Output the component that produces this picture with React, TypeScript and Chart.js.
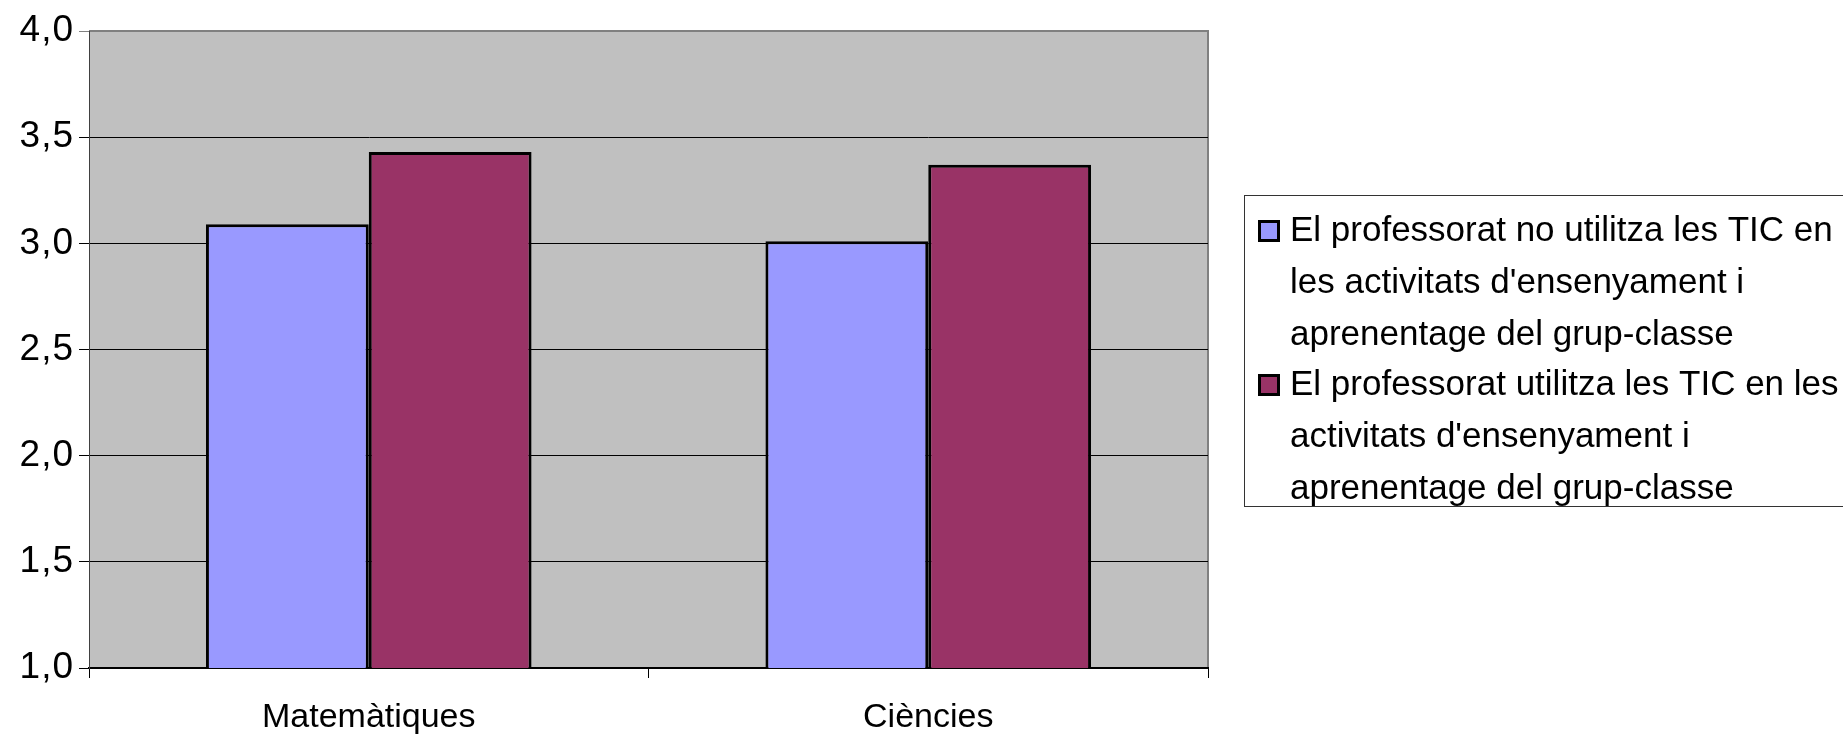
import React, { useEffect, useRef } from 'react';
import { Chart, registerables } from 'chart.js';

Chart.register(...registerables);

const categories: string[] = ['Matemàtiques', 'Ciències'];
const seriesNoTIC: number[] = [3.09, 3.01];
const seriesTIC: number[] = [3.43, 3.37];
const legendNoTIC: string[] = [
  'El professorat no utilitza les TIC en',
  "les activitats d'ensenyament i",
  'aprenentage del grup-classe',
];
const legendTIC: string[] = [
  'El professorat utilitza les TIC en les',
  "activitats d'ensenyament i",
  'aprenentage del grup-classe',
];
const yMin = 1.0;
const yMax = 4.0;
const yStep = 0.5;
const colorNoTIC = '#9999FF';
const colorTIC = '#993366';
const plotBg = '#C0C0C0';
const FONT = '"Liberation Sans", Arial, sans-serif';

const plotBackground = {
  id: 'plotBackground',
  beforeDraw(chart: any) {
    const { ctx, chartArea } = chart;
    ctx.save();
    ctx.fillStyle = plotBg;
    ctx.fillRect(chartArea.left, chartArea.top, chartArea.right - chartArea.left, chartArea.bottom - chartArea.top);
    ctx.strokeStyle = '#808080';
    ctx.lineWidth = 2;
    ctx.beginPath();
    ctx.moveTo(chartArea.left, chartArea.top);
    ctx.lineTo(chartArea.right, chartArea.top);
    ctx.lineTo(chartArea.right, chartArea.bottom);
    ctx.stroke();
    ctx.restore();
    // y tick labels are drawn slightly wider (letter spacing), x labels are not
    const xs: any = chart.scales.x;
    if (xs && !xs.__noSpacing) {
      const orig = xs.drawLabels.bind(xs);
      xs.drawLabels = (area: any) => {
        const c: any = xs.ctx;
        const prev = c.letterSpacing;
        c.letterSpacing = '0px';
        orig(area);
        c.letterSpacing = prev;
      };
      xs.__noSpacing = true;
    }
    try {
      (ctx as any).letterSpacing = '1px';
    } catch (e) {}
  },
};

const wrappedLegend = {
  id: 'wrappedLegend',
  afterDraw(chart: any) {
    const { ctx, chartArea } = chart;
    const boxLeft = Math.round(chartArea.right + 36);
    const boxTop = Math.round(chartArea.top + 164);
    const boxHeight = 311;
    ctx.save();
    ctx.strokeStyle = '#333333';
    ctx.lineWidth = 1;
    ctx.strokeRect(boxLeft + 0.5, boxTop + 0.5, 700, boxHeight);
    ctx.font = '35px ' + FONT;
    try {
      (ctx as any).letterSpacing = '0px';
    } catch (e) {}
    ctx.textBaseline = 'alphabetic';
    ctx.textAlign = 'left';
    chart.data.datasets.forEach((ds: any, i: number) => {
      const lines: string[] = ds.legendLines;
      const base0 = boxTop + 46 + i * 154;
      const mx = boxLeft + 14;
      const my = boxTop + 25 + i * 154;
      const size = 22;
      ctx.fillStyle = ds.backgroundColor;
      ctx.fillRect(mx, my, size, size);
      ctx.strokeStyle = '#000';
      ctx.lineWidth = 3;
      ctx.strokeRect(mx + 1.5, my + 1.5, size - 3, size - 3);
      ctx.fillStyle = '#000';
      lines.forEach((line, k) => {
        ctx.fillText(line, boxLeft + 46, base0 + k * 52);
      });
    });
    ctx.restore();
    try {
      (ctx as any).letterSpacing = '0px';
    } catch (e) {}
  },
};

export default function App() {
  const canvasRef = useRef<HTMLCanvasElement | null>(null);

  useEffect(() => {
    if (!canvasRef.current) return;
    const chart = new Chart(canvasRef.current, {
      type: 'bar',
      data: {
        labels: categories,
        datasets: [
          {
            label: legendNoTIC.join(' '),
            legendLines: legendNoTIC,
            data: seriesNoTIC,
            backgroundColor: colorNoTIC,
            borderColor: '#000',
            borderWidth: 3,
            categoryPercentage: 0.582,
            barPercentage: 1,
          } as any,
          {
            label: legendTIC.join(' '),
            legendLines: legendTIC,
            data: seriesTIC,
            backgroundColor: colorTIC,
            borderColor: '#000',
            borderWidth: 3,
            categoryPercentage: 0.582,
            barPercentage: 1,
          } as any,
        ],
      },
      options: {
        responsive: false,
        animation: false,
        events: [],
        layout: { padding: { top: 31, right: 635, left: 0, bottom: 0 } },
        plugins: {
          legend: { display: false },
          tooltip: { enabled: false },
          title: { display: false },
        },
        scales: {
          x: {
            grid: {
              offset: true,
              drawOnChartArea: false,
              drawTicks: true,
              tickLength: 10,
              color: '#000',
              lineWidth: 1,
            },
            border: { display: true, color: '#000', width: 2 },
            ticks: {
              color: '#000',
              font: { family: FONT, size: 34 },
              padding: 19,
              maxRotation: 0,
            },
            afterFit(scale: any) {
              scale.height = 69;
              scale.paddingLeft = 0;
              scale.paddingRight = 0;
            },
          },
          y: {
            min: yMin,
            max: yMax,
            grid: {
              drawTicks: true,
              tickLength: 10,
              color: (c: any) => (c.tick && c.tick.value === yMax ? '#808080' : '#000'),
              lineWidth: 1,
            },
            border: { display: true, color: '#404040', width: 1 },
            ticks: {
              stepSize: yStep,
              color: '#000',
              font: { family: FONT, size: 37 },
              padding: 5,
              callback: (v: any) => Number(v).toFixed(1).replace('.', ','),
            },
            afterFit(scale: any) {
              scale.width = 89;
              scale.paddingTop = 0;
              scale.paddingBottom = 0;
            },
          },
        },
      },
      plugins: [plotBackground, wrappedLegend],
    });
    return () => chart.destroy();
  }, []);

  return (
    <div style={{ position: 'absolute', left: 0, top: 0, width: 1843, height: 737, background: '#fff' }}>
      <canvas ref={canvasRef} width={1843} height={737} style={{ display: 'block' }} />
    </div>
  );
}
